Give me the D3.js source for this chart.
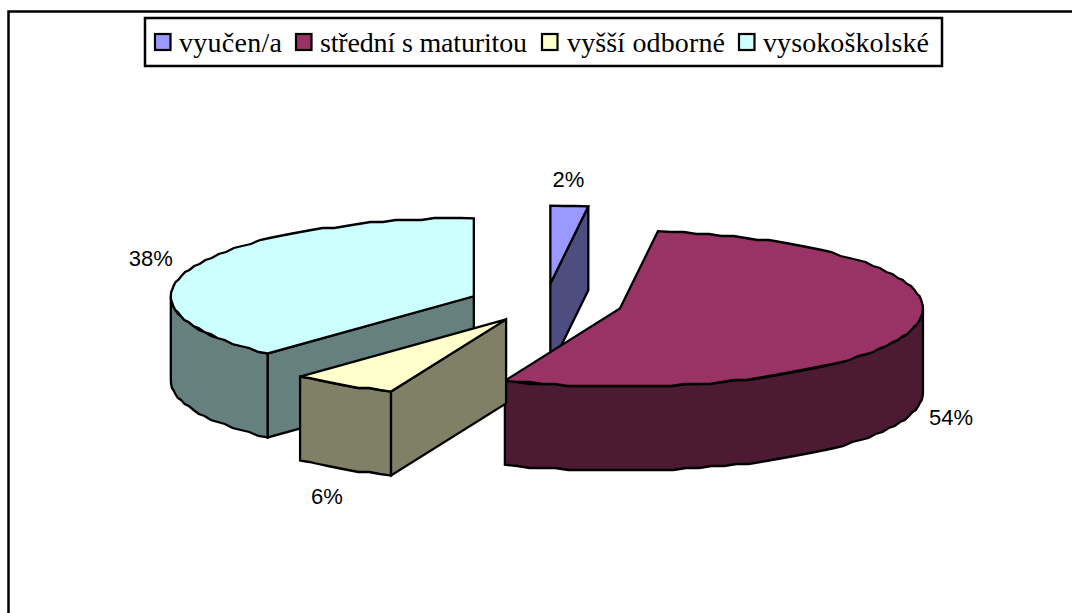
<!DOCTYPE html>
<html><head><meta charset="utf-8">
<style>html,body{margin:0;padding:0;background:#fff;overflow:hidden}svg{display:block}</style>
<script src="https://d3js.org/d3.v7.min.js"></script></head>
<body><svg id="c" width="1072" height="613"></svg>
<script>
const categories = ["vyučen/a", "střední s maturitou", "vyšší odborné", "vysokoškolské"];
const values = [2, 54.2, 5.7, 38.1];
const topColors = ["#9999FF", "#993366", "#FFFFCC", "#CCFFFF"];
const sideColors = ["#4D4D80", "#4D1A33", "#808066", "#668080"];

// layout
const W = 1072, H = 613;
const CX = 545.5, CY = 303.5, RX = 303, RY = 78, DEPTH = 84, EXPLODE = 77;
const explodeScale = [1, 1, 0.95, 1];
const labelOffsets = [[-1, -26], [38, 89], [-16, 111], [-41, -9]];
const legendSwatchX = [155, 296, 542, 739];
const legendTextX = [179, 320, 567, 763];
const legendTextW = [103, 207, 158, 166];

const svg = d3.select("#c");
const sx = d3.scaleLinear().domain([-1, 1]).range([-RX, RX]);
const sy = d3.scaleLinear().domain([-1, 1]).range([-RY, RY]);

const pie = d3.pie().sort(null).value(d => d).startAngle(0).endAngle(2 * Math.PI);
const arcs = pie(values);

function centre(a) {
  const m = (a.startAngle + a.endAngle) / 2, k = EXPLODE * explodeScale[a.index] / RX;
  return [CX + sx(Math.sin(m)) * k, CY + sy(-Math.cos(m)) * k];
}
function pt(c, t) { return [c[0] + sx(Math.sin(t)), c[1] + sy(-Math.cos(t))]; }
// coarse polyline, like the low-resolution outline of the original
function rim(c, t0, t1) {
  const n = Math.max(1, Math.ceil((t1 - t0) / (2.5 * Math.PI / 180)));
  return d3.range(n + 1).map(i => {
    const p = pt(c, t0 + (t1 - t0) * i / n);
    return (i === 0 || i === n) ? p : [p[0], Math.round(p[1] / 2) * 2];
  });
}
const down = p => [p[0], p[1] + DEPTH];
const line = d3.line();
const poly = (pts, fill) => svg.append("path").attr("d", line(pts) + "Z")
  .attr("fill", fill).attr("stroke", "#000").attr("stroke-width", 2.3).attr("stroke-linejoin", "miter");

// outer frame
svg.append("path").attr("d", `M8.5,${H + 5}V11.5H${W + 5}`).attr("fill", "none")
  .attr("stroke", "#000").attr("stroke-width", 2.5);

function drawSlice(i) {
  const a = arcs[i], c = centre(a), s = a.startAngle, e = a.endAngle;
  const lo = Math.max(s, Math.PI / 2), hi = Math.min(e, 3 * Math.PI / 2);
  if (hi > lo) {
    const r = rim(c, lo, hi);
    poly(r.concat(r.map(down).reverse()), sideColors[i]);
  }
  const radial = t => {
    const p = pt(c, t);
    poly([c, p, down(p), down(c)], sideColors[i]);
  };
  if (s >= Math.PI && s < 2 * Math.PI) radial(s);
  if (e > 0 && e < Math.PI) radial(e);
  poly([c].concat(rim(c, s, e)), topColors[i]);
}
// back-to-front
[0, 3, 1, 2].forEach(drawSlice);

// data labels
arcs.forEach((a, i) => {
  const c = centre(a), m = (a.startAngle + a.endAngle) / 2, p = pt(c, m);
  svg.append("text").attr("x", p[0] + labelOffsets[i][0]).attr("y", p[1] + labelOffsets[i][1])
    .attr("text-anchor", "middle").attr("dominant-baseline", "central")
    .attr("font-family", "Liberation Sans").attr("font-size", 22).attr("fill", "#000")
    .text(d3.format(".0f")(a.value / d3.sum(values) * 100) + "%");
});

// legend
svg.append("rect").attr("x", 145).attr("y", 18).attr("width", 797).attr("height", 48)
  .attr("fill", "#fff").attr("stroke", "#000").attr("stroke-width", 2.5);
categories.forEach((name, i) => {
  svg.append("rect").attr("x", legendSwatchX[i]).attr("y", 34).attr("width", 15.5).attr("height", 16)
    .attr("fill", topColors[i]).attr("stroke", "#000").attr("stroke-width", 2.2);
  svg.append("text").attr("x", legendTextX[i]).attr("y", 52)
    .attr("font-family", "Liberation Serif").attr("font-size", 28).attr("fill", "#000")
    .attr("textLength", legendTextW[i]).attr("lengthAdjust", "spacing").text(name);
});
</script></body></html>
